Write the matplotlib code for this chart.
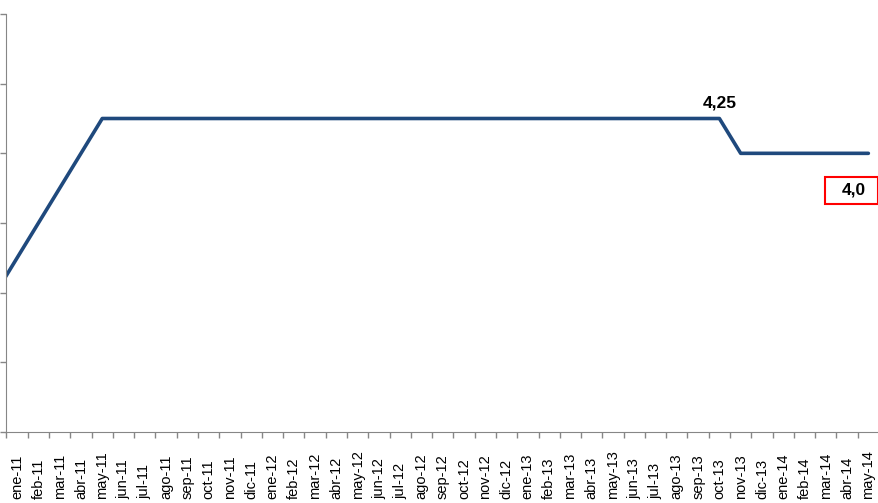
import matplotlib.pyplot as plt
from matplotlib.patches import Rectangle

plt.rcParams['font.family'] = ['Liberation Sans', 'DejaVu Sans']

# monthly reference rate, dic-10 .. may-14 (dic-10 sits left of the visible axis)
months = ["dic-10",
          "ene-11", "feb-11", "mar-11", "abr-11", "may-11", "jun-11", "jul-11", "ago-11",
          "sep-11", "oct-11", "nov-11", "dic-11",
          "ene-12", "feb-12", "mar-12", "abr-12", "may-12", "jun-12", "jul-12", "ago-12",
          "sep-12", "oct-12", "nov-12", "dic-12",
          "ene-13", "feb-13", "mar-13", "abr-13", "may-13", "jun-13", "jul-13", "ago-13",
          "sep-13", "oct-13", "nov-13", "dic-13",
          "ene-14", "feb-14", "mar-14", "abr-14", "may-14"]
rate = [3.0,
        3.25, 3.5, 3.75, 4.0, 4.25, 4.25, 4.25, 4.25, 4.25, 4.25, 4.25, 4.25,
        4.25, 4.25, 4.25, 4.25, 4.25, 4.25, 4.25, 4.25, 4.25, 4.25, 4.25, 4.25,
        4.25, 4.25, 4.25, 4.25, 4.25, 4.25, 4.25, 4.25, 4.25, 4.25, 4.0, 4.0,
        4.0, 4.0, 4.0, 4.0, 4.0]

x = list(range(-1, len(months) - 1))
labels = months[1:]

fig = plt.figure(figsize=(8.79, 5.03), dpi=100)
ax = fig.add_axes([6.5/879, 1 - 432/503, 872.5/879, 418/503])

ax.plot(x, rate, color="#1f497d", linewidth=2.6, solid_capstyle="round")

ax.set_xlim(-0.5, len(labels) - 0.5)
ax.set_ylim(2.0, 5.0)
ax.set_yticks([2.0, 2.5, 3.0, 3.5, 4.0, 4.5, 5.0])
ax.set_yticklabels([])

ax.set_xticks([i - 0.5 for i in range(len(labels) + 1)])
ax.set_xticklabels([])
ax.set_xticks(range(len(labels)), minor=True)
# labels sit bottom-aligned, as in the spreadsheet original
ax.set_xticklabels(labels, minor=True, rotation=90, fontsize=10.5, va="bottom")
ax.tick_params(axis="x", which="minor", length=0, pad=48)
ax.tick_params(axis="both", which="major", length=4, color="#868686", width=1)

for s in ["top", "right"]:
    ax.spines[s].set_visible(False)
for s in ["left", "bottom"]:
    ax.spines[s].set_color("#868686")

# annotations
i_oct13 = labels.index("oct-13")
ax.annotate("4,25", xy=(i_oct13, rate[i_oct13 + 1]), xytext=(0, 6), textcoords="offset points",
            ha="center", va="bottom", fontsize=12.5, fontweight="bold")

i_last = len(labels) - 1
ax.add_patch(Rectangle((i_last - 2.04, 3.636), 2.49, 0.194, facecolor="white",
                       edgecolor="#ff0000", linewidth=1.5, clip_on=False))
ax.text(i_last - 0.7, 3.737, "4,0", ha="center", va="center", fontsize=12.5, fontweight="bold")

fig.savefig("out.png", dpi=100)
